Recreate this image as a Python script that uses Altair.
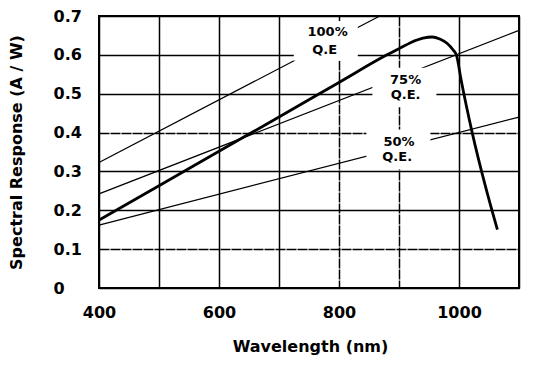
import altair as alt
import pandas as pd

# Spectral response curve
curve_wavelength = [400, 500, 600, 700, 800, 880, 900, 920, 940, 955, 968, 980, 990, 996, 1003, 1022, 1044, 1064]
curve_response = [0.175, 0.263, 0.352, 0.44, 0.529, 0.60, 0.616, 0.632, 0.643, 0.646, 0.641, 0.630, 0.613, 0.598, 0.54, 0.40, 0.262, 0.15]

# Quantum-efficiency reference lines (end points)
qe_names = ["100%", "75%", "50%"]
qe_wavelength = [[400, 868], [400, 1100], [400, 1100]]
qe_response = [[0.323, 0.70], [0.242, 0.663], [0.162, 0.44]]

# Labels for the QE lines
label_text = ["100%", "Q.E", "75%", "Q.E.", "50%", "Q.E."]
label_wavelength = [781, 776, 911, 911, 900, 897]
label_response = [0.66, 0.612, 0.535, 0.497, 0.376, 0.338]

# Label group centres (white knock-out boxes)
box_wavelength = [778, 909, 899]
box_response = [0.636, 0.516, 0.357]

y_ticks = [0, 0.1, 0.2, 0.3, 0.4, 0.5, 0.6, 0.7]
x_ticks = [400, 500, 600, 700, 800, 900, 1000, 1100]

FONT = "DejaVu Sans"

curve_df = pd.DataFrame({"wl": curve_wavelength, "r": curve_response})
qe_rows = []
for name, xs, ys in zip(qe_names, qe_wavelength, qe_response):
    for xv, yv in zip(xs, ys):
        qe_rows.append({"qe": name, "wl": xv, "r": yv})
qe_df = pd.DataFrame(qe_rows)
label_df = pd.DataFrame({"wl": label_wavelength, "r": label_response, "t": label_text})
box_df = pd.DataFrame({"wl": box_wavelength, "r": box_response})

x_scale = alt.Scale(domain=[400, 1100], nice=False, zero=False)
y_scale = alt.Scale(domain=[0, 0.7], nice=False, zero=True)

x_axis = alt.Axis(
    values=x_ticks, tickCount=20,
    format="d",
    labelExpr="(datum.value % 200 == 0 && datum.value < 1100) ? datum.label : ''",
    title="Wavelength (nm)",
    titleX=211, titleY=63, titleBaseline="alphabetic", titleAlign="center",
    ticks=False, domain=False, labelPadding=16, labelFlush=False, labelOverlap=False,
    gridDash={"condition": {"test": "datum.value == 800 || datum.value == 900", "value": [10, 1]}, "value": []},
)
y_axis = alt.Axis(
    values=y_ticks, tickCount=20,
    labelExpr="datum.value == 0 ? '0' : format(datum.value, '.1f')",
    title="Spectral Response (A / W)",
    titleX=-83, titleY=136, titleAngle=-90, titleBaseline="middle", titleAlign="center",
    ticks=False, domain=False, labelAlign="left", labelPadding=46, labelBaseline="middle",
    labelFlush=False, labelOverlap=False,
    gridDash={"condition": {"test": "datum.value == 0.1 || datum.value == 0.4", "value": [10, 1]}, "value": []},
)

x_enc = alt.X("wl:Q", scale=x_scale, axis=x_axis)
y_enc = alt.Y("r:Q", scale=y_scale, axis=y_axis)

qe_lines = alt.Chart(qe_df).mark_line(color="black", strokeWidth=1.3).encode(
    x=x_enc, y=y_enc, detail="qe:N"
)

boxes = alt.Chart(box_df).mark_point(
    shape="M-1,-0.62H1V0.62H-1Z", filled=True, fill="white", stroke="white",
    strokeWidth=0, opacity=1, size=4096,
).encode(x=alt.X("wl:Q", scale=x_scale), y=alt.Y("r:Q", scale=y_scale))

labels = alt.Chart(label_df).mark_text(
    font=FONT, fontSize=13, fontWeight="bold", color="black", align="center", baseline="middle"
).encode(x=alt.X("wl:Q", scale=x_scale), y=alt.Y("r:Q", scale=y_scale), text="t:N")

curve = alt.Chart(curve_df).mark_line(color="black", strokeWidth=2.8, interpolate="monotone").encode(
    x=alt.X("wl:Q", scale=x_scale), y=alt.Y("r:Q", scale=y_scale)
)

chart = alt.layer(qe_lines, boxes, labels, curve).properties(
    width=420, height=272,
    autosize=alt.AutoSizeParams(type="none"),
    padding={"left": 91, "top": 8, "right": 9, "bottom": 75},
    background="white",
).configure_view(
    stroke="black", strokeWidth=2
).configure_axis(
    gridColor="black", gridOpacity=1, gridWidth=1.5,
    labelFont=FONT, labelFontSize=16, labelFontWeight="bold", labelColor="black",
    titleFont=FONT, titleFontSize=16, titleFontWeight="bold", titleColor="black",
)

chart.save("out.html", embed_options={"renderer": "svg", "actions": False})
